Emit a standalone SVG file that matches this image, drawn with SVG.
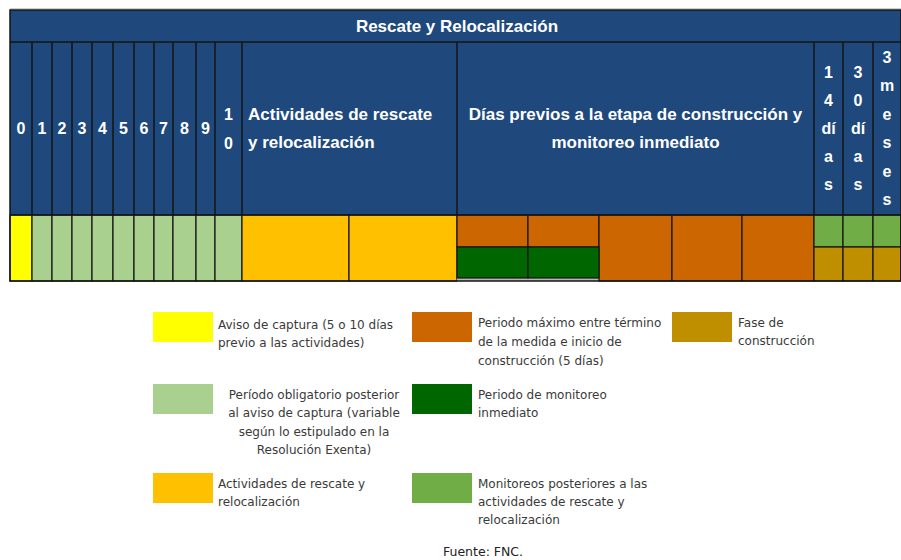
<svg xmlns="http://www.w3.org/2000/svg" width="901" height="560" viewBox="0 0 901 560">
<style>
.hd{font-family:"Liberation Sans",Arial,sans-serif;font-weight:bold;font-size:17px;fill:#ffffff}
.vt{font-family:"Liberation Sans",Arial,sans-serif;font-weight:bold;font-size:16px;fill:#ffffff;text-anchor:middle}
.lg{font-family:"DejaVu Sans","Liberation Sans",sans-serif;font-size:12px;fill:#3a3a3a}
.ln{stroke:#151515;stroke-width:1.5;fill:none}
.cell{stroke:#151515;stroke-width:1.2}
</style>
<rect width="901" height="560" fill="#ffffff"/>
<line x1="10" y1="8.5" x2="901" y2="8.5" stroke="#cfcfcf" stroke-width="1"/>
<g id="header">
<rect x="10" y="10" width="891" height="205" fill="#1f497d"/>
<text class="hd" x="457" y="32" text-anchor="middle">Rescate y Relocalización</text>
<g class="vt">
<text x="21" y="134">0</text>
<text x="42" y="134">1</text>
<text x="62" y="134">2</text>
<text x="82" y="134">3</text>
<text x="102.5" y="134">4</text>
<text x="123.5" y="134">5</text>
<text x="144" y="134">6</text>
<text x="163.5" y="134">7</text>
<text x="184.5" y="134">8</text>
<text x="205.5" y="134">9</text>
<text x="228.5" y="120">1</text>
<text x="228.5" y="149">0</text>
<text x="828.5" y="78">1</text>
<text x="828.5" y="106">4</text>
<text x="828.5" y="134">dí</text>
<text x="828.5" y="162">a</text>
<text x="828.5" y="190">s</text>
<text x="858" y="78">3</text>
<text x="858" y="106">0</text>
<text x="858" y="134">dí</text>
<text x="858" y="162">a</text>
<text x="858" y="190">s</text>
<text x="887" y="63">3</text>
<text x="887" y="91">m</text>
<text x="887" y="120">e</text>
<text x="887" y="148">s</text>
<text x="887" y="177">e</text>
<text x="887" y="205">s</text>
</g>
<text class="hd" x="248" y="120">Actividades de rescate</text>
<text class="hd" x="248" y="148">y relocalización</text>
<text class="hd" x="635.5" y="120" text-anchor="middle">Días previos a la etapa de construcción y</text>
<text class="hd" x="635.5" y="148" text-anchor="middle">monitoreo inmediato</text>
</g>
<g id="bars">
<rect class="cell" x="10" y="215" width="22" height="66" fill="#ffff00"/>
<g fill="#a9d08e">
<rect class="cell" x="32" y="215" width="20" height="66"/>
<rect class="cell" x="52" y="215" width="20" height="66"/>
<rect class="cell" x="72" y="215" width="20" height="66"/>
<rect class="cell" x="92" y="215" width="21" height="66"/>
<rect class="cell" x="113" y="215" width="21" height="66"/>
<rect class="cell" x="134" y="215" width="20" height="66"/>
<rect class="cell" x="154" y="215" width="19" height="66"/>
<rect class="cell" x="173" y="215" width="23" height="66"/>
<rect class="cell" x="196" y="215" width="19" height="66"/>
<rect class="cell" x="215" y="215" width="27" height="66"/>
</g>
<g fill="#ffc000">
<rect class="cell" x="242" y="215" width="107" height="66"/>
<rect class="cell" x="349" y="215" width="108" height="66"/>
</g>
<rect x="457" y="278" width="142" height="3" fill="#b8b8b8"/>
<g fill="#cc6600">
<rect class="cell" x="457" y="215" width="71" height="32"/>
<rect class="cell" x="528" y="215" width="71" height="32"/>
<rect class="cell" x="599" y="215" width="73" height="66"/>
<rect class="cell" x="672" y="215" width="70" height="66"/>
<rect class="cell" x="742" y="215" width="72" height="66"/>
</g>
<g fill="#006600">
<rect class="cell" x="457" y="247" width="71" height="31"/>
<rect class="cell" x="528" y="247" width="71" height="31"/>
</g>
<g fill="#70ad47">
<rect class="cell" x="814" y="215" width="29" height="32"/>
<rect class="cell" x="843" y="215" width="30" height="32"/>
<rect class="cell" x="873" y="215" width="28" height="32"/>
</g>
<g fill="#bf8f00">
<rect class="cell" x="814" y="247" width="29" height="34"/>
<rect class="cell" x="843" y="247" width="30" height="34"/>
<rect class="cell" x="873" y="247" width="28" height="34"/>
</g>
</g>
<g id="grid" class="ln">
<rect x="10" y="10" width="891" height="271"/>
<line x1="10" y1="42" x2="901" y2="42"/>
<line x1="10" y1="215" x2="901" y2="215"/>
<path d="M32 42V215M52 42V215M72 42V215M92 42V215M113 42V215M134 42V215M154 42V215M173 42V215M196 42V215M215 42V215M242 42V215M457 42V215M814 42V215M843 42V215M873 42V215"/>
</g>
<g id="legend-aviso">
<rect x="153" y="312" width="60" height="30" fill="#ffff00"/>
<text class="lg" x="218" y="329">Aviso de captura (5 o 10 días</text>
<text class="lg" x="218" y="347">previo a las actividades)</text>
</g>
<g id="legend-periodo-obligatorio">
<rect x="153" y="384" width="60" height="30" fill="#a9d08e"/>
<g class="lg" text-anchor="middle">
<text x="314" y="399">Período obligatorio posterior</text>
<text x="314" y="417">al aviso de captura (variable</text>
<text x="314" y="436">según lo estipulado en la</text>
<text x="314" y="454">Resolución Exenta)</text>
</g>
</g>
<g id="legend-actividades">
<rect x="153" y="473" width="60" height="30" fill="#ffc000"/>
<text class="lg" x="218" y="488">Actividades de rescate y</text>
<text class="lg" x="218" y="506">relocalización</text>
</g>
<g id="legend-periodo-maximo">
<rect x="412" y="312" width="60" height="30" fill="#cc6600"/>
<text class="lg" x="478" y="327">Periodo máximo entre término</text>
<text class="lg" x="478" y="346">de la medida e inicio de</text>
<text class="lg" x="478" y="365">construcción (5 días)</text>
</g>
<g id="legend-monitoreo-inmediato">
<rect x="412" y="384" width="60" height="30" fill="#006600"/>
<text class="lg" x="478" y="399">Periodo de monitoreo</text>
<text class="lg" x="478" y="417">inmediato</text>
</g>
<g id="legend-monitoreos-posteriores">
<rect x="412" y="473" width="60" height="30" fill="#70ad47"/>
<text class="lg" x="478" y="488">Monitoreos posteriores a las</text>
<text class="lg" x="478" y="506">actividades de rescate y</text>
<text class="lg" x="478" y="524">relocalización</text>
</g>
<g id="legend-construccion">
<rect x="672" y="312" width="60" height="30" fill="#bf8f00"/>
<text class="lg" x="738" y="327">Fase de</text>
<text class="lg" x="738" y="345">construcción</text>
</g>
<text x="443" y="556" font-family="DejaVu Sans, sans-serif" font-size="12.5" fill="#222">Fuente: FNC.</text>
</svg>
